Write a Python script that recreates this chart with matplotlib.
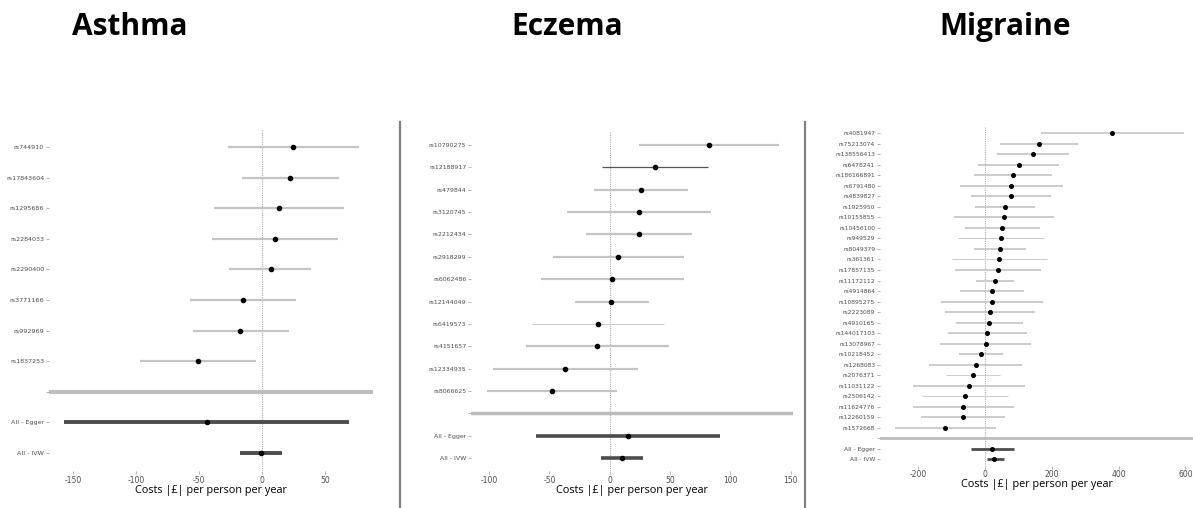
import matplotlib
matplotlib.use("Agg")
import matplotlib.pyplot as plt
from matplotlib.lines import Line2D

W, H = 1193, 508

# --- data (costs in £ per person per year) ---
asthma_snps = ['rs744910', 'rs17843604', 'rs1295686', 'rs2284033',
               'rs2290400', 'rs3771166', 'rs992969', 'rs1837253']
asthma_est = [24.6, 22, 13.5, 10, 7, -15, -17.5, -51]
asthma_lo = [-27, -16, -38, -40, -26, -57, -55, -97]
asthma_hi = [77, 61, 65, 60, 39, 27, 21, -5]
asthma_all = ['All - Egger', 'All - IVW']
asthma_all_est = [-44, -1]
asthma_all_lo = [-157, -17.5]
asthma_all_hi = [69, 15.6]

eczema_snps = ['rs10790275', 'rs12188917', 'rs479844', 'rs3120745', 'rs2212434',
               'rs2918299', 'rs6062486', 'rs12144049', 'rs6419573', 'rs4151657',
               'rs12334935', 'rs8066625']
eczema_est = [82.6, 37.5, 26, 24, 24, 7, 2, 1.5, -9.5, -10.4, -37, -48]
eczema_lo = [24.5, -6, -12.6, -35, -20, -47, -57, -29, -64.6, -69, -96.7, -102]
eczema_hi = [140.7, 81.5, 65, 83.7, 68.5, 62, 62, 33, 45, 48.8, 23.4, 6]
eczema_all = ['All - Egger', 'All - IVW']
eczema_all_est = [15.4, 10]
eczema_all_lo = [-61, -6.8]
eczema_all_hi = [91.7, 27.5]

migraine_snps = ['rs4081947', 'rs75213074', 'rs138556413', 'rs6478241', 'rs186166891',
                 'rs6791480', 'rs4839827', 'rs1925950', 'rs10155855', 'rs10456100',
                 'rs949529', 'rs8049379', 'rs361361', 'rs17857135', 'rs11172112',
                 'rs4914864', 'rs10895275', 'rs2223089', 'rs4910165', 'rs144017103',
                 'rs13078967', 'rs10218452', 'rs1268083', 'rs2076371', 'rs11031122',
                 'rs2506142', 'rs11624776', 'rs12260159', 'rs1572668']
migraine_est = [380, 161, 144, 101, 83, 78, 77, 59, 56, 52, 47, 44, 42, 38, 30,
                21, 20, 14, 13, 7, 2, -12, -28, -36, -49, -60, -65, -66, -120]
migraine_lo = [166, 44, 37, -20, -33, -75, -42, -30, -93, -60, -81, -34, -98, -90, -26,
               -75, -133, -121, -87, -112, -134, -77, -167, -117, -215, -190, -216, -191, -271]
migraine_hi = [596, 278, 251, 222, 200, 233, 197, 149, 206, 165, 176, 122, 185, 168, 86,
               116, 173, 149, 114, 126, 138, 53, 112, 46, 120, 68, 88, 60, 32]
migraine_all = ['All - Egger', 'All - IVW']
migraine_all_est = [22, 28]
migraine_all_lo = [-42, 6]
migraine_all_hi = [87, 56]

# line weights per snp (a few are drawn thinner / darker in the original)
eczema_thin = ['rs6419573']
eczema_dark = ['rs12188917']
migraine_thin = ['rs361361', 'rs2076371', 'rs2506142', 'rs949529']


def forest(ax, snps, est, lo, hi, all_lab, all_est, all_lo, all_hi, xlim, xticks,
           thin=(), dark=(), snp_lw=1.6, all_lw=2.6, ms=3.0, sep_lw=2.5, lab_fs=4.6):
    labels = snps + [''] + all_lab
    n = len(labels)
    ypos = list(range(n))
    for i, s in enumerate(snps):
        col = '#c4c4c4'
        lw = snp_lw
        if s in thin:
            lw = 0.6
        if s in dark:
            col = '#555555'
            lw = 0.9
        ax.plot([lo[i], hi[i]], [i, i], color=col, lw=lw, solid_capstyle='butt', zorder=2)
        ax.plot(est[i], i, 'o', color='black', ms=ms, zorder=3)
    ax.axhline(len(snps), color='#bdbdbd', lw=sep_lw, zorder=1)
    for j in range(len(all_lab)):
        y = len(snps) + 1 + j
        ax.plot([all_lo[j], all_hi[j]], [y, y], color='#4d4d4d', lw=all_lw,
                solid_capstyle='butt', zorder=2)
        ax.plot(all_est[j], y, 'o', color='black', ms=ms, zorder=3)
    ax.axvline(0, color='#aaaaaa', lw=0.8, ls=(0, (1, 1)), zorder=1)
    ax.set_xlim(xlim)
    ax.set_ylim(n - 1 + 0.6, -0.6)
    ax.set_yticks(ypos)
    ax.set_yticklabels(labels, fontsize=lab_fs, color='#4d4d4d')
    ax.set_xticks(xticks)
    ax.set_xticklabels([str(t) for t in xticks], fontsize=5.5, color='#4d4d4d')
    ax.tick_params(axis='both', length=2, width=0.5, color='#999999', pad=1.5)
    for sp in ax.spines.values():
        sp.set_visible(False)
    ax.set_xlabel('Costs |£| per person per year', fontsize=7.8, labelpad=0, family='Open Sans')


def add_axes_px(fig, x0, x1, y0, y1):
    return fig.add_axes([x0 / W, 1 - y1 / H, (x1 - x0) / W, (y1 - y0) / H])


fig = plt.figure(figsize=(W / 100, H / 100), dpi=100)

ax1 = add_axes_px(fig, 49, 373, 128.6, 471.4)
forest(ax1, asthma_snps, asthma_est, asthma_lo, asthma_hi, asthma_all,
       asthma_all_est, asthma_all_lo, asthma_all_hi, (-169, 88), [-150, -100, -50, 0, 50],
       sep_lw=2.8, all_lw=2.8, lab_fs=4.6)

ax2 = add_axes_px(fig, 471, 793, 131.6, 471.4)
forest(ax2, eczema_snps, eczema_est, eczema_lo, eczema_hi, eczema_all,
       eczema_all_est, eczema_all_lo, eczema_all_hi, (-115, 152), [-100, -50, 0, 50, 100, 150],
       thin=eczema_thin, dark=eczema_dark, sep_lw=2.5, lab_fs=4.5)

ax3 = add_axes_px(fig, 880, 1193, 127, 465.6)
forest(ax3, migraine_snps, migraine_est, migraine_lo, migraine_hi, migraine_all,
       migraine_all_est, migraine_all_lo, migraine_all_hi, (-315, 623), [-200, 0, 200, 400, 600],
       thin=migraine_thin, snp_lw=1.2, all_lw=2.0, ms=2.6, sep_lw=2.0, lab_fs=4.3)

# panel separators
for xs in [399.5, 805]:
    fig.add_artist(Line2D([xs / W, xs / W], [0, 1 - 122 / H], color='#808080', lw=1.6))

# titles
for x, t in [(130, 'Asthma'), (567, 'Eczema'), (1005, 'Migraine')]:
    fig.text(x / W, 1 - 27 / H, t, ha='center', va='center', fontsize=21.5,
             fontweight='bold', family='Open Sans')

fig.savefig('out.png', dpi=100)
